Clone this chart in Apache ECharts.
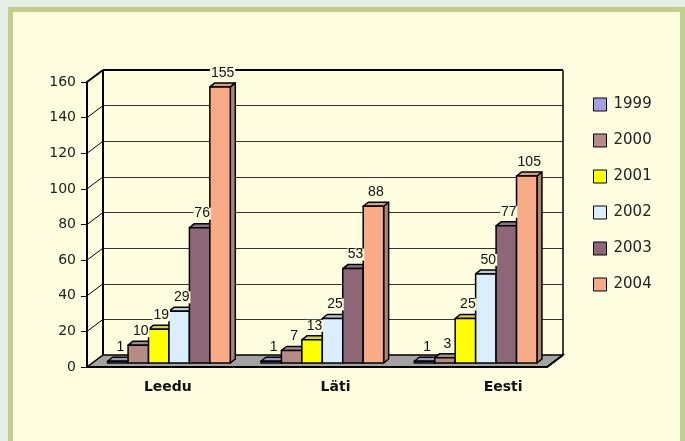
<!DOCTYPE html>
<html>
<head>
<meta charset="utf-8">
<script src="https://cdn.jsdelivr.net/npm/echarts@6/dist/echarts.min.js"></script>
<style>
body { margin:0; background:#e3eee5; }
#frame { position:absolute; left:8px; top:7px; width:667px; height:450px; border:5px solid #c2ce8c; background:#fefddf; }
#main { position:absolute; left:0; top:0; width:685px; height:441px; }
</style>
</head>
<body>
<div id="frame"></div>
<div id="main"></div>
<script>
var categories = ['Leedu', 'Läti', 'Eesti'];
var years = ['1999', '2000', '2001', '2002', '2003', '2004'];
var v1999 = [1, 1, 1];
var v2000 = [10, 7, 3];
var v2001 = [19, 13, 25];
var v2002 = [29, 25, 50];
var v2003 = [76, 53, 77];
var v2004 = [155, 88, 105];
var yTicks = [0, 20, 40, 60, 80, 100, 120, 140, 160];

var values = [v1999, v2000, v2001, v2002, v2003, v2004];
var colors = ['#a59de0', '#b68b85', '#ffff00', '#dbeefd', '#8d6677', '#f8ab87'];

function mix(a, b, t) {
  var pa = [1, 3, 5].map(function (i) { return parseInt(a.substr(i, 2), 16); });
  var pb = [1, 3, 5].map(function (i) { return parseInt(b.substr(i, 2), 16); });
  return 'rgb(' + pa.map(function (v, i) { return Math.round(v * (1 - t) + pb[i] * t); }).join(',') + ')';
}
var topColors = colors.map(function (c) { return mix(c, '#8a8a8a', 0.35); });
var sideColors = colors.map(function (c) { return mix(c, '#606060', 0.5); });

var myChart = echarts.init(document.getElementById('main'));

// wall depth offset (front -> back)
var DX = 16, DY = -12;

function barItem(si) {
  return function (params, api) {
    var cat = api.value(0), val = api.value(1);
    var band = api.size([1, 0])[0];
    var w = band * 0.8 / 6;
    var c = api.coord([cat, val]);
    var base = api.coord([cat, 0])[1];
    var x0 = c[0] - band * 0.4 + si * w;
    var yt = c[1];
    var dx = 5, dy = -4;
    var ls = { stroke: '#000', lineWidth: 1.5, lineJoin: 'round' };
    return {
      type: 'group',
      children: [
        { type: 'polygon', z2: si,
          shape: { points: [[x0 + w, yt], [x0 + w + dx, yt + dy], [x0 + w + dx, base + dy], [x0 + w, base]] },
          style: Object.assign({ fill: sideColors[si] }, ls) },
        { type: 'polygon', z2: si,
          shape: { points: [[x0, yt], [x0 + w, yt], [x0 + w + dx, yt + dy], [x0 + dx, yt + dy]] },
          style: Object.assign({ fill: topColors[si] }, ls) },
        { type: 'rect', z2: si,
          shape: { x: x0, y: yt, width: w, height: base - yt },
          style: Object.assign({ fill: colors[si] }, ls) },
        { type: 'text', z2: 100,
          style: { text: String(val), x: x0 + w / 2 + dx / 2, y: yt + dy - 4,
                   align: 'center', verticalAlign: 'bottom', fill: '#111',
                   fontSize: 14, fontFamily: 'Liberation Sans', lineHeight: 12,
                   backgroundColor: '#fefddf', padding: [0, 1] } }
      ]
    };
  };
}

function wallItem(params, api) {
  var cs = params.coordSys;
  var t = api.value(1);
  var y = api.coord([0, t])[1];
  var kids = [];
  if (t === 0) {
    var yb = y;
    kids.push({ type: 'polygon',
      shape: { points: [[cs.x, yb], [cs.x + cs.width, yb], [cs.x + cs.width - DX, yb - DY], [cs.x - DX, yb - DY]] },
      style: { fill: '#a3a3a3', stroke: '#000', lineWidth: 1.5 } });
    kids.push({ type: 'line', shape: { x1: cs.x + cs.width, y1: yb, x2: cs.x + cs.width - DX, y2: yb - DY },
      style: { stroke: '#000', lineWidth: 2 } });
    kids.push({ type: 'line', shape: { x1: cs.x, y1: cs.y, x2: cs.x, y2: yb },
      style: { stroke: '#000', lineWidth: 2 } });
    kids.push({ type: 'line', shape: { x1: cs.x + cs.width, y1: cs.y, x2: cs.x + cs.width, y2: yb },
      style: { stroke: '#000', lineWidth: 1.5 } });
  } else {
    kids.push({ type: 'line', shape: { x1: cs.x, y1: y, x2: cs.x - DX, y2: y - DY },
      style: { stroke: '#000', lineWidth: t === 160 ? 2 : 1 } });
  }
  if (t === 160) {
    kids.push({ type: 'line', shape: { x1: cs.x, y1: y, x2: cs.x + cs.width, y2: y },
      style: { stroke: '#000', lineWidth: 2 } });
  }
  return { type: 'group', children: kids };
}

var series = [{
  type: 'custom', xAxisIndex: 0, yAxisIndex: 0, z: 1, silent: true,
  renderItem: wallItem,
  data: yTicks.map(function (t) { return [0, t]; })
}];
for (var i = 0; i < years.length; i++) {
  series.push({
    name: years[i], type: 'custom', xAxisIndex: 2, yAxisIndex: 2, z: 2,
    itemStyle: { color: colors[i] },
    renderItem: barItem(i),
    data: values[i].map(function (v, k) { return [k, v]; })
  });
}

var option = {
  animation: false,
  grid: [
    { left: 103, top: 70, width: 460, height: 285 },     // back wall
    { left: 87, top: 82, width: 460, height: 285 },      // front axes
    { left: 92.3, top: 78, width: 460, height: 285 },    // bar plane
    { left: 84, top: 82, width: 503, height: 285 }       // category labels
  ],
  legend: {
    data: years, orient: 'vertical', left: 593, top: 97, padding: 0,
    itemWidth: 13, itemHeight: 13, itemGap: 21, icon: 'rect',
    itemStyle: { borderColor: '#000', borderWidth: 1 },
    textStyle: { fontFamily: 'DejaVu Sans', fontSize: 15, color: '#222', padding: [0, 0, 0, 2] }
  },
  xAxis: [
    { gridIndex: 0, type: 'category', data: categories, show: false },
    { gridIndex: 1, type: 'category', data: categories, z: 5,
      axisLine: { lineStyle: { color: '#000', width: 2 } },
      axisTick: { length: 4, lineStyle: { color: '#000' } },
      axisLabel: { show: false } },
    { gridIndex: 2, type: 'category', data: categories, show: false },
    { gridIndex: 3, type: 'category', data: categories,
      axisLine: { show: false }, axisTick: { show: false },
      axisLabel: { margin: 13, fontFamily: 'DejaVu Sans', fontSize: 14, fontWeight: 'bold', color: '#111' } }
  ],
  yAxis: [
    { gridIndex: 0, type: 'value', min: 0, max: 160, interval: 20,
      axisLine: { show: false }, axisTick: { show: false }, axisLabel: { show: false },
      splitLine: { lineStyle: { color: '#333', width: 1 } } },
    { gridIndex: 1, type: 'value', min: 0, max: 160, interval: 20, z: 5,
      axisLine: { show: true, lineStyle: { color: '#000', width: 2 } },
      axisTick: { show: true, length: 6, lineStyle: { color: '#000' } },
      splitLine: { show: false },
      axisLabel: { margin: 11, fontFamily: 'DejaVu Sans', fontSize: 14, color: '#222' } },
    { gridIndex: 2, type: 'value', min: 0, max: 160, show: false, splitLine: { show: false } },
    { gridIndex: 3, type: 'value', min: 0, max: 160, show: false, splitLine: { show: false } }
  ],
  series: series
};

myChart.setOption(option);
</script>
</body>
</html>
